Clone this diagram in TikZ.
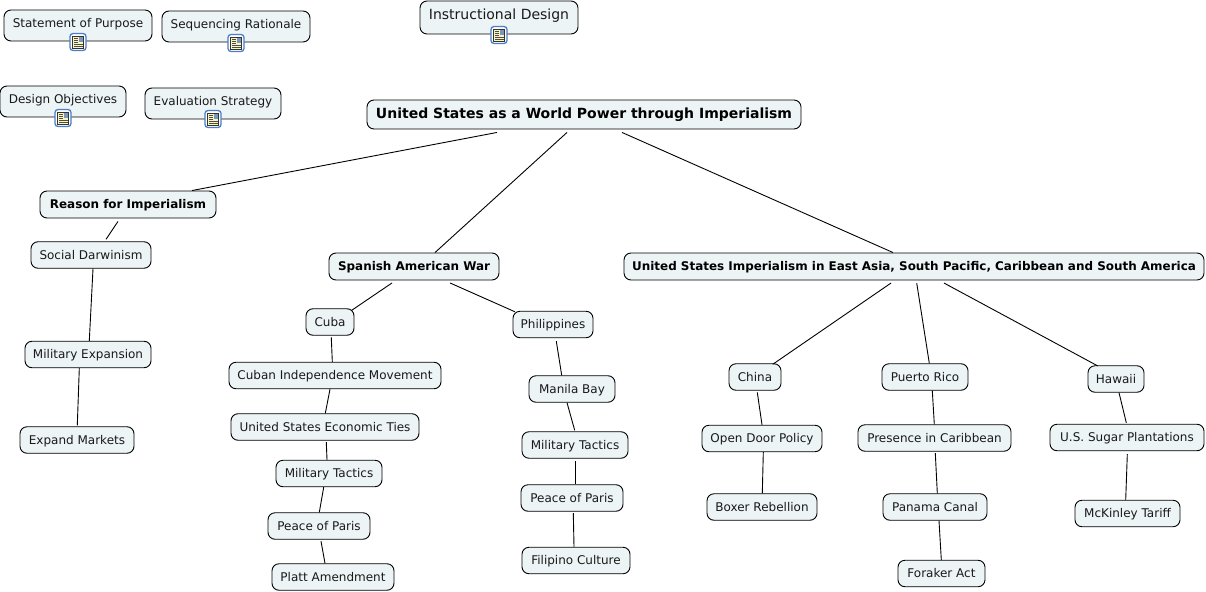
\documentclass[tikz,border=0pt]{standalone}
\usepackage{fontspec}
\setmainfont{DejaVu Sans}
\definecolor{boxfill}{RGB}{237, 244, 246}
\definecolor{boxtext}{RGB}{25, 25, 25}
\definecolor{iconblue}{RGB}{75, 125, 200}
\definecolor{iconpage}{RGB}{250, 245, 190}
\definecolor{iconpict}{RGB}{120, 150, 190}
\tikzset{
  topic/.style={draw=black, line width=0.9pt, rounded corners=7pt, fill=boxfill, text=boxtext,
    inner sep=0pt, font=\fontsize{12}{14}\selectfont, minimum height=26.5pt,
    text height=11pt, text depth=2.5pt},
  headtopic/.style={topic, text=black, font=\fontsize{11.95}{14}\selectfont\bfseries, minimum height=27pt},
  roottopic/.style={topic, text=black, font=\fontsize{14}{16}\selectfont\bfseries, minimum height=29pt,
    text height=12.5pt, text depth=4.4pt},
  notetopic/.style={topic, text height=12pt, text depth=8.4pt, minimum height=31pt},
  link/.style={draw=black, line width=0.9pt},
  noteicon/.pic={
    \draw[iconblue, line width=1.3pt, fill=white, rounded corners=3pt] (-8,-8.5) rectangle (8,8.5);
    \draw[black!80, line width=0.6pt, fill=iconpage] (-5.5,-6) rectangle (5.5,6);
    \fill[iconpict] (0.5,-5) rectangle (5,0);
    \draw[black!70, line width=0.5pt] (-4,-4) -- (-0.5,-4) (-4,-2) -- (-0.5,-2) (-4,0) -- (-0.5,0)
      (-4,2) -- (4.5,2) (-4,4) -- (4.5,4);
  }
}
\begin{document}
\begin{tikzpicture}[x=1pt, y=-1pt]
  \useasboundingbox (0,0) rectangle (1206,591);

  % Resource boxes
  \node[notetopic, minimum width=148pt] (purpose) at (78,25.5) {Statement of Purpose};
  \node[notetopic, minimum width=148pt] (rationale) at (236,26.5) {Sequencing Rationale};
  \node[notetopic, minimum width=126pt] (objectives) at (63,101.5) {Design Objectives};
  \node[notetopic, minimum width=136pt] (evaluation) at (213,103.5) {Evaluation Strategy};
  \node[notetopic, minimum width=158pt, minimum height=33pt, text height=13pt, text depth=8pt, font=\fontsize{14}{16}\selectfont] (design) at (499,17.5) {Instructional Design};
  \pic at (78,42) {noteicon};
  \pic at (236,43) {noteicon};
  \pic at (63,118) {noteicon};
  \pic at (213,119) {noteicon};
  \pic at (499,35) {noteicon};

  % Main topic
  \node[roottopic, minimum width=434pt] (root) at (584,114.5) {United States as a World Power through Imperialism};

  % Reason branch
  \node[headtopic, minimum width=176pt] (reason) at (128,204.5) {Reason for Imperialism};
  \node[topic, minimum width=120pt] (darwinism) at (91,255) {Social Darwinism};
  \node[topic, minimum width=126pt] (expansion) at (88,354.5) {Military Expansion};
  \node[topic, minimum width=114pt] (markets) at (77,440) {Expand Markets};

  % War branch
  \node[headtopic, minimum width=170pt] (war) at (414,266.5) {Spanish American War};
  \node[topic, minimum width=48pt] (cuba) at (330,322) {Cuba};
  \node[topic, minimum width=212pt] (independence) at (335,375.5) {Cuban Independence Movement};
  \node[topic, minimum width=188pt] (ties) at (325,427) {United States Economic Ties};
  \node[topic, minimum width=106pt] (tacticsA) at (329,473.5) {Military Tactics};
  \node[topic, minimum width=102pt] (parisA) at (319,526) {Peace of Paris};
  \node[topic, minimum width=122pt] (platt) at (333,577) {Platt Amendment};
  \node[topic, minimum width=80pt] (philippines) at (553,324.5) {Philippines};
  \node[topic, minimum width=86pt] (manila) at (572,389) {Manila Bay\hspace{4pt}};
  \node[topic, minimum width=106pt] (tacticsB) at (575,445) {Military Tactics};
  \node[topic, minimum width=102pt] (parisB) at (572,498) {Peace of Paris};
  \node[topic, minimum width=108pt] (filipino) at (576,560.5) {Filipino Culture};

  % East Asia branch
  \node[headtopic, minimum width=580pt] (asia) at (914,266.5) {United States Imperialism in East Asia, South Pacific, Caribbean and South America};
  \node[topic, minimum width=52pt] (china) at (755,377) {China};
  \node[topic, minimum width=120pt] (door) at (762,438.5) {Open Door Policy};
  \node[topic, minimum width=110pt] (boxer) at (762,507) {Boxer Rebellion};
  \node[topic, minimum width=86pt] (rico) at (925,377) {Puerto Rico};
  \node[topic, minimum width=153pt] (caribbean) at (934.5,438) {Presence in Caribbean};
  \node[topic, minimum width=104pt] (panama) at (935,507) {Panama Canal};
  \node[topic, minimum width=87pt] (foraker) at (941.5,573.5) {Foraker Act};
  \node[topic, minimum width=56pt] (hawaii) at (1116,379) {Hawaii};
  \node[topic, minimum width=154pt] (sugar) at (1127,437.5) {U.S. Sugar Plantations};
  \node[topic, minimum width=105pt] (tariff) at (1127.5,513.5) {McKinley Tariff};

  % Links
  \draw[link] ([shift={(-87,3)}]root.south) -- ([shift={(64,0)}]reason.north);
  \draw[link] ([shift={(-17,3)}]root.south) -- ([shift={(21,0)}]war.north);
  \draw[link] ([shift={(38,3)}]root.south) -- ([shift={(-21,0)}]asia.north);
  \draw[link] ([shift={(-10,3)}]reason.south) -- ([shift={(15,-2)}]darwinism.north);
  \draw[link] ([shift={(2,0)}]darwinism.south) -- ([shift={(1.3,0)}]expansion.north);
  \draw[link] ([shift={(-8.7,0)}]expansion.south) -- ([shift={(0.3,-1)}]markets.north);
  \draw[link] ([shift={(-22,2.5)}]war.south) -- ([shift={(21.7,2)}]cuba.north);
  \draw[link] ([shift={(36,2.5)}]war.south) -- ([shift={(-38,1)}]philippines.north);
  \draw[link] ([shift={(1.3,1.7)}]cuba.south) -- ([shift={(-2.7,0)}]independence.north);
  \draw[link] ([shift={(-5,0)}]independence.south) -- ([shift={(0.3,0)}]ties.north);
  \draw[link] ([shift={(1.3,1.5)}]ties.south) -- ([shift={(-2,0)}]tacticsA.north);
  \draw[link] ([shift={(-5.3,0)}]tacticsA.south) -- ([shift={(0.3,0)}]parisA.north);
  \draw[link] ([shift={(2,1.5)}]parisA.south) -- ([shift={(-8,0)}]platt.north);
  \draw[link] ([shift={(3.3,3)}]philippines.south) -- ([shift={(-10.3,0)}]manila.north);
  \draw[link] ([shift={(-5,0)}]manila.south) -- ([shift={(-0.3,-1)}]tacticsB.north);
  \draw[link] ([shift={(0.3,2.5)}]tacticsB.south) -- ([shift={(3.3,0)}]parisB.north);
  \draw[link] ([shift={(1.3,1.5)}]parisB.south) -- ([shift={(-2,0)}]filipino.north);
  \draw[link] ([shift={(-23,2.6)}]asia.south) -- ([shift={(17.7,1)}]china.north);
  \draw[link] ([shift={(2.7,2.6)}]asia.south) -- ([shift={(4.3,0)}]rico.north);
  \draw[link] ([shift={(30,2.6)}]asia.south) -- ([shift={(-18.3,0.6)}]hawaii.north);
  \draw[link] ([shift={(2.3,1.7)}]china.south) -- ([shift={(0,0)}]door.north);
  \draw[link] ([shift={(1.3,0)}]door.south) -- ([shift={(0.3,0)}]boxer.north);
  \draw[link] ([shift={(7.3,0)}]rico.south) -- ([shift={(-0.2,0)}]caribbean.north);
  \draw[link] ([shift={(0.8,1.5)}]caribbean.south) -- ([shift={(2.3,0)}]panama.north);
  \draw[link] ([shift={(4,0)}]panama.south) -- ([shift={(-0.2,0)}]foraker.north);
  \draw[link] ([shift={(3,0)}]hawaii.south) -- ([shift={(-0.7,-1)}]sugar.north);
  \draw[link] ([shift={(0.3,3)}]sugar.south) -- ([shift={(-1.8,0)}]tariff.north);
\end{tikzpicture}
\end{document}
